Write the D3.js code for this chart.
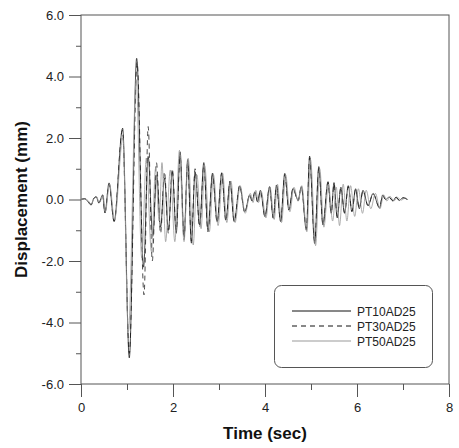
<!DOCTYPE html>
<html><head><meta charset="utf-8">
<script src="https://cdn.jsdelivr.net/npm/d3@7"></script>
<style>body{margin:0;background:#fff;} svg{display:block;}</style>
</head><body>
<script>
// ---- data ----
const seriesNames = ["PT10AD25", "PT30AD25", "PT50AD25"];
const xTicks = [0, 2, 4, 6, 8];
const yTicks = [6, 4, 2, 0, -2, -4, -6];
const yTickLabels = ["6.0", "4.0", "2.0", "0.0", "-2.0", "-4.0", "-6.0"];
const xMinor = [1, 3, 5, 7];
const yMinor = [5, 3, 1, -1, -3, -5];

const pt10 = [[0,0],[0.08,0.03],[0.14,-0.05],[0.22,-0.18],[0.28,0.04],[0.33,0.09],[0.39,-0.12],[0.47,0.15],[0.52,-0.44],[0.61,0.54],[0.72,-0.72],[0.905,2.32],[1.05,-5.15],[1.21,4.59],[1.36,-2.2],[1.46,1.4],[1.56,-1.2],[1.645,0.8],[1.73,-0.9],[1.815,0.7],[1.90,-1.0],[1.985,0.9],[2.07,-1.1],[2.155,1.55],[2.24,-1.2],[2.32,1.3],[2.40,-1.42],[2.48,0.9],[2.58,-0.83],[2.67,1.2],[2.76,-1.0],[2.86,0.86],[2.96,-0.72],[3.06,0.87],[3.15,-0.67],[3.24,0.58],[3.33,-0.72],[3.45,0.44],[3.56,-0.4],[3.67,0.15],[3.72,-0.05],[3.78,0.25],[3.84,-0.07],[3.90,0.3],[4.00,-0.56],[4.10,0.42],[4.18,-0.61],[4.25,0.47],[4.34,-0.72],[4.43,0.85],[4.52,-0.34],[4.61,0.36],[4.72,-0.02],[4.79,0.42],[4.90,-1.0],[4.97,1.41],[5.08,-1.43],[5.17,1.07],[5.26,-0.83],[5.37,0.58],[5.44,-0.45],[5.50,0.55],[5.57,-0.6],[5.65,0.4],[5.73,-0.45],[5.81,0.45],[5.89,-0.4],[5.97,0.35],[6.05,-0.3],[6.13,0.3],[6.24,-0.2],[6.35,0.2],[6.49,-0.28],[6.56,0.15],[6.62,0.0],[6.70,0.08],[6.78,-0.05],[6.85,0.08],[6.92,-0.03],[7.00,0.06],[7.10,0.0]];
const pt30 = [[0,0],[0.08,0.02],[0.15,-0.04],[0.22,-0.16],[0.28,0.04],[0.33,0.08],[0.39,-0.1],[0.47,0.14],[0.52,-0.42],[0.61,0.5],[0.72,-0.7],[0.90,2.25],[1.05,-5.0],[1.22,4.45],[1.37,-3.1],[1.46,2.37],[1.55,-2.0],[1.64,1.2],[1.73,-1.1],[1.815,0.9],[1.90,-1.1],[1.985,1.0],[2.07,-1.0],[2.155,1.4],[2.24,-1.3],[2.32,1.2],[2.40,-1.35],[2.48,1.0],[2.58,-0.9],[2.67,1.1],[2.76,-1.05],[2.86,0.8],[2.96,-0.75],[3.06,0.85],[3.15,-0.7],[3.24,0.6],[3.33,-0.7],[3.45,0.45],[3.56,-0.42],[3.67,0.15],[3.72,-0.05],[3.78,0.22],[3.84,-0.08],[3.90,0.28],[4.00,-0.55],[4.10,0.4],[4.18,-0.6],[4.25,0.45],[4.34,-0.7],[4.43,0.8],[4.52,-0.35],[4.61,0.35],[4.72,-0.05],[4.79,0.4],[4.90,-0.95],[4.97,1.35],[5.08,-1.35],[5.17,1.0],[5.26,-0.8],[5.37,0.55],[5.44,-0.42],[5.50,0.5],[5.57,-0.55],[5.65,0.38],[5.73,-0.42],[5.81,0.42],[5.89,-0.38],[5.97,0.33],[6.05,-0.28],[6.13,0.28],[6.24,-0.2],[6.35,0.18],[6.49,-0.25],[6.56,0.13],[6.62,0.0],[6.70,0.07],[6.78,-0.04],[6.85,0.07],[6.92,-0.03],[7.00,0.05],[7.10,0.0]];
const pt50 = [[0,0],[0.08,0.02],[0.15,-0.03],[0.22,-0.15],[0.28,0.03],[0.34,0.08],[0.40,-0.1],[0.48,0.13],[0.53,-0.4],[0.62,0.5],[0.73,-0.65],[0.91,2.0],[1.03,-4.3],[1.20,3.9],[1.32,-1.9],[1.42,1.35],[1.53,-1.7],[1.62,1.0],[1.70,-0.7],[1.76,1.2],[1.84,-1.37],[1.94,0.96],[2.04,-1.37],[2.14,1.6],[2.24,-1.37],[2.33,1.34],[2.44,-1.48],[2.52,0.8],[2.61,-0.95],[2.69,1.1],[2.79,-1.05],[2.88,0.8],[2.98,-0.85],[3.08,0.85],[3.17,-0.75],[3.26,0.6],[3.35,-0.75],[3.46,0.45],[3.57,-0.45],[3.68,0.2],[3.74,-0.1],[3.80,0.3],[3.86,-0.1],[3.92,0.25],[4.02,-0.6],[4.11,0.4],[4.20,-0.65],[4.27,0.5],[4.36,-0.75],[4.45,0.8],[4.54,-0.4],[4.63,0.4],[4.72,-0.05],[4.80,0.45],[4.91,-1.05],[4.99,1.3],[5.10,-1.5],[5.19,1.0],[5.28,-0.9],[5.38,0.5],[5.47,-0.7],[5.55,0.4],[5.62,-0.85],[5.70,0.5],[5.78,-0.7],[5.86,0.45],[5.95,-0.55],[6.03,0.35],[6.12,-0.45],[6.20,0.3],[6.30,-0.3],[6.40,0.2],[6.50,-0.3],[6.58,0.15],[6.65,-0.05],[6.72,0.1],[6.80,-0.05],[6.88,0.07],[6.96,-0.02],[7.05,0.05],[7.10,0.0]];

const seriesData = [pt10, pt30, pt50];
const seriesStyle = [
  {color:"#111", dash:null, width:0.75},
  {color:"#111", dash:"5,4", width:0.75},
  {color:"#999", dash:null, width:0.8}
];

// ---- layout ----
const W = 459, H = 448;
const m = {left:81, top:15, right:10, bottom:64};
const pw = W - m.left - m.right, ph = H - m.top - m.bottom;

const svg = d3.select("body").append("svg").attr("width", W).attr("height", H);
const x = d3.scaleLinear().domain([0, 8]).range([m.left, m.left + pw]);
const y = d3.scaleLinear().domain([-6, 6]).range([m.top + ph, m.top]);

const axisColor = "#555";
const font = "Arial, 'Liberation Sans', sans-serif";

// frame
svg.append("rect").attr("x", x(0)).attr("y", y(6)).attr("width", x(8)-x(0)).attr("height", y(-6)-y(6))
  .attr("fill","none").attr("stroke", axisColor).attr("stroke-width",1);

// y axis
const yAxis = d3.axisLeft(y).tickValues(yTicks).tickFormat((d,i) => yTickLabels[i]).tickSize(12).tickPadding(5);
const gy = svg.append("g").attr("transform", `translate(${x(0)},0)`).call(yAxis);
gy.select(".domain").remove();
gy.selectAll("line").attr("stroke", axisColor);
gy.selectAll("text").attr("font-family", font).attr("font-size", 13).attr("fill", "#222");
const gym = svg.append("g").attr("transform", `translate(${x(0)},0)`)
  .call(d3.axisLeft(y).tickValues(yMinor).tickSize(5).tickFormat(""));
gym.select(".domain").remove();
gym.selectAll("line").attr("stroke", axisColor);

// x axis
const xAxis = d3.axisBottom(x).tickValues(xTicks).tickFormat(d3.format("d")).tickSize(13).tickPadding(6);
const gx = svg.append("g").attr("transform", `translate(0,${y(-6)})`).call(xAxis);
gx.select(".domain").remove();
gx.selectAll("line").attr("stroke", axisColor);
gx.selectAll("text").attr("font-family", font).attr("font-size", 13).attr("fill", "#222");
const gxm = svg.append("g").attr("transform", `translate(0,${y(-6)})`)
  .call(d3.axisBottom(x).tickValues(xMinor).tickSize(6).tickFormat(""));
gxm.select(".domain").remove();
gxm.selectAll("line").attr("stroke", axisColor);

// titles
svg.append("text").attr("x", (x(0)+x(8))/2).attr("y", 439).attr("text-anchor","middle")
  .attr("font-family", font).attr("font-weight","bold").attr("font-size",17).attr("fill","#111").text("Time (sec)");
svg.append("text").attr("transform", `translate(27,${(y(6)+y(-6))/2}) rotate(-90)`).attr("text-anchor","middle")
  .attr("font-family", font).attr("font-weight","bold").attr("font-size",17).attr("fill","#111").text("Displacement (mm)");

// lines
const line = d3.line().x(d => x(d[0])).y(d => y(d[1])).curve(d3.curveMonotoneX);
[0, 1, 2].forEach(i => {
  svg.append("path").datum(seriesData[i]).attr("d", line)
    .attr("fill","none").attr("stroke", seriesStyle[i].color).attr("stroke-width", seriesStyle[i].width)
    .attr("stroke-dasharray", seriesStyle[i].dash);
});

// legend
const lg = svg.append("g");
lg.append("rect").attr("x", 274.5).attr("y", 285.5).attr("width", 158).attr("height", 82).attr("rx", 7)
  .attr("fill","#fff").attr("stroke", axisColor).attr("stroke-width",1);
seriesNames.forEach((n, i) => {
  const yy = 311 + i * 15;
  lg.append("line").attr("x1", 292).attr("x2", 351).attr("y1", yy).attr("y2", yy)
    .attr("stroke", seriesStyle[i].color).attr("stroke-width", 1).attr("stroke-dasharray", seriesStyle[i].dash);
  lg.append("text").attr("x", 357).attr("y", yy + 4.5).attr("font-family", font).attr("font-size", 12)
    .attr("fill","#222").text(n);
});
</script>
</body></html>
